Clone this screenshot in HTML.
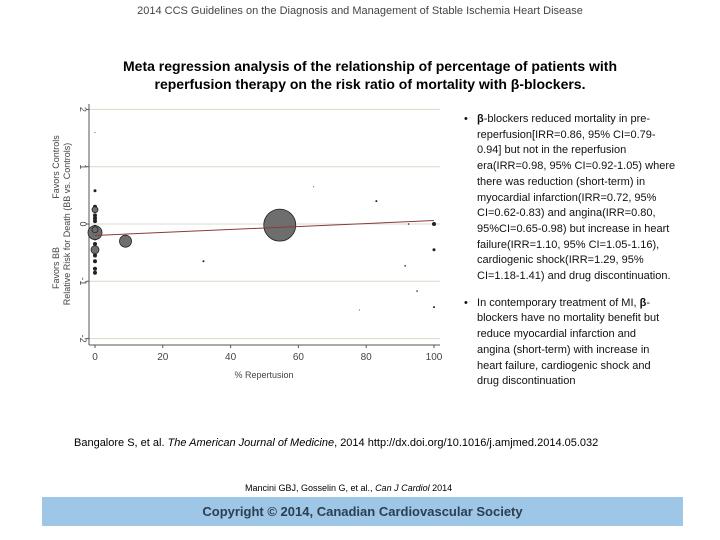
<!DOCTYPE html>
<html><head><meta charset="utf-8"><style>
body{margin:0;width:720px;height:540px;background:#fff;position:relative;overflow:hidden;font-family:"Liberation Sans",sans-serif;color:#000}
.a{position:absolute;white-space:nowrap}
</style></head><body>
<div class="a" style="left:0;width:720px;top:5px;text-align:center;font-size:11px;color:#444">2014 CCS Guidelines on the Diagnosis and Management of Stable Ischemia Heart Disease</div>
<div class="a" style="left:0;width:740px;top:57px;text-align:center;font-size:14px;font-weight:bold;line-height:18px">Meta regression analysis of the relationship of percentage of patients with<br>reperfusion therapy on the risk ratio of mortality with β-blockers.</div>
<svg class="a" style="left:0;top:0" width="720" height="540"></svg>
<div class="a" style="left:464px;top:112px;font-size:11px;line-height:15.7px;color:#111">
<div>•&nbsp;&nbsp;&nbsp;<b>β</b>-blockers reduced mortality in pre-</div>
<div style="padding-left:13px">reperfusion[IRR=0.86, 95% CI=0.79-<br>0.94] but not in the reperfusion<br>era(IRR=0.98, 95% CI=0.92-1.05) where<br>there was reduction (short-term) in<br>myocardial infarction(IRR=0.72, 95%<br>CI=0.62-0.83) and angina(IRR=0.80,<br>95%CI=0.65-0.98) but increase in heart<br>failure(IRR=1.10, 95% CI=1.05-1.16),<br>cardiogenic shock(IRR=1.29, 95%<br>CI=1.18-1.41) and drug discontinuation.</div>
<div style="height:11px"></div>
<div>•&nbsp;&nbsp;&nbsp;In contemporary treatment of MI, <b>β</b>-</div>
<div style="padding-left:13px">blockers have no mortality benefit but<br>reduce myocardial infarction and<br>angina (short-term) with increase in<br>heart failure, cardiogenic shock and<br>drug discontinuation</div>
</div>
<div class="a" style="left:74px;top:437px;font-size:11px">Bangalore S, et al. <i>The American Journal of Medicine</i>, 2014 http://dx.doi.org/10.1016/j.amjmed.2014.05.032</div>
<div class="a" style="left:245px;top:483px;font-size:9px">Mancini GBJ, Gosselin G, et al., <i>Can J Cardiol</i> 2014</div>
<div class="a" style="left:42px;top:497px;width:641px;height:29px;background:#9dc6e7;text-align:center;line-height:29px;font-size:13px;font-weight:bold;color:#2c3e50">Copyright © 2014, Canadian Cardiovascular Society</div>
<script>
const xVals=[0,0,0,0,0,0,0,0,0,0,0,0,0,0,0,0,0,9,32,54.5,64.5,83,78,91.5,92.5,95,100,100,100];
const yVals=[1.6,0.58,0.3,0.25,0.15,0.05,-0.05,-0.25,-0.35,-0.55,-0.65,-0.78,-0.85,-0.15,-0.45,-0.1,0.1,-0.3,-0.65,-0.02,0.65,0.4,-1.5,-0.73,0,-1.17,0,-0.45,-1.45];
const sizes=[0.5,1.5,2,3,2,2,2,2,2,2,2,2,2,7,4,3,2,6,1,16,0.5,1,0.5,0.8,0.8,0.8,2,1.5,1];
const xTicks=[0,20,40,60,80,100];
const yTicks=[-2,-1,0,1,2];
const fit=[-0.2,0.06];
const X=v=>95+v*3.39, Y=v=>224-v*57.3;
const svg=document.querySelector('svg');const NS='http://www.w3.org/2000/svg';
function mk(t,a){const e=document.createElementNS(NS,t);for(const k in a)e.setAttribute(k,a[k]);svg.appendChild(e);return e;}
yTicks.forEach(t=>{
 const g=mk('line',{x1:89,x2:440,y1:Y(t),y2:Y(t),stroke:'#dcd9c8','stroke-width':1});
 
 
 mk('line',{x1:86,x2:89,y1:Y(t),y2:Y(t),stroke:'#555'});
 const l=mk('text',{x:0,y:0,'font-size':9,fill:'#444','text-anchor':'middle',transform:`translate(80,${Y(t)}) rotate(90)`});l.textContent=t;
 
 
});
xTicks.forEach(t=>{
 mk('line',{x1:X(t),x2:X(t),y1:345,y2:348,stroke:'#555'});
 const l=mk('text',{x:X(t),y:360,'font-size':10,fill:'#444','text-anchor':'middle'});l.textContent=t;
 
 
});
mk('line',{x1:89,x2:89,y1:104,y2:345,stroke:'#555'});
mk('line',{x1:89,x2:440,y1:345,y2:345,stroke:'#555'});
const xt=mk('text',{x:264,y:378,'font-size':9,fill:'#444','text-anchor':'middle'});xt.textContent='% Repertusion';


const yt=mk('text',{x:0,y:0,'font-size':9,fill:'#444','text-anchor':'middle',transform:'translate(70,224) rotate(-90)'});yt.textContent='Relative Risk for Death (BB vs. Controls)';


const yt2=mk('text',{x:0,y:0,'font-size':9,fill:'#444','text-anchor':'middle',transform:'translate(59,268) rotate(-90)'});yt2.textContent='Favors BB';


const yt3=mk('text',{x:0,y:0,'font-size':9,fill:'#444','text-anchor':'middle',transform:'translate(59,167) rotate(-90)'});yt3.textContent='Favors Controls';


xVals.forEach((x,i)=>{
 const c=mk('circle',{cx:X(x),cy:Y(yVals[i]),r:sizes[i],fill:sizes[i]>2.5?'#6e6e6e':'#222',stroke:'#222','stroke-width':sizes[i]>2.5?0.8:0});
 
 
});
const f=mk('line',{x1:X(0),y1:Y(fit[0]),x2:X(100),y2:Y(fit[1]),stroke:'#8b3a3a','stroke-width':1});


</script>
</body></html>
